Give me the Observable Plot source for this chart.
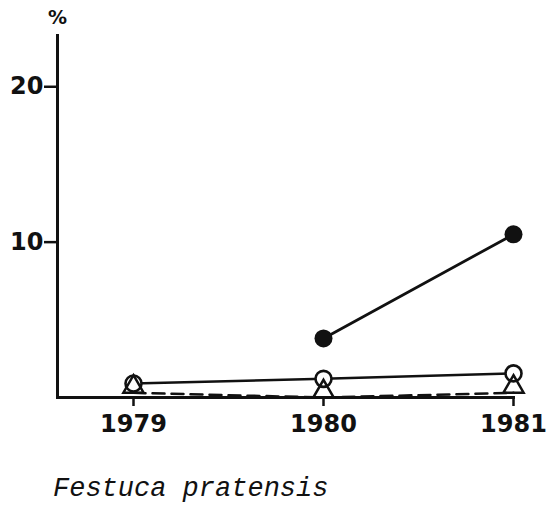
<!DOCTYPE html>
<html>
<head>
<meta charset="utf-8">
<script src="https://cdn.jsdelivr.net/npm/d3@7"></script>
<script src="https://cdn.jsdelivr.net/npm/@observablehq/plot@0.6"></script>
<style>
  html, body { margin: 0; padding: 0; background: #fff; }
  #chart svg { display: block; }
  #caption {
    margin: 26px 0 0 53px;
    font-family: "Liberation Mono", "DejaVu Sans Mono", monospace;
    font-style: italic;
    font-size: 27px;
    line-height: 1;
    color: #111;
  }
</style>
</head>
<body>
<div id="chart"></div>
<div id="caption">Festuca pratensis</div>
<script>
// Data
const years = [1979, 1980, 1981];
const filledYears = [1980, 1981];
const filledValues = [3.8, 10.5];        // filled circles, solid line
const openValues = [0.9, 1.2, 1.55];     // open circles, solid line
const triangleValues = [0.3, 0, 0.3];    // triangles, dashed line
const yTicks = [10, 20];
const yTickLabels = ["10", "20"];
const unitLabel = "%";
const captionText = "Festuca pratensis";

const filled = filledYears.map((x, i) => ({x, y: filledValues[i]}));
const open = years.map((x, i) => ({x, y: openValues[i]}));
const tri = years.map((x, i) => ({x, y: triangleValues[i]}));

const ink = "#111";
const font = "DejaVu Sans";

const chart = Plot.plot({
  width: 547,
  height: 450,
  marginLeft: 57,
  marginRight: 34,
  marginTop: 35,
  marginBottom: 53,
  style: {fontFamily: font, fontWeight: "bold", fontSize: "24px", color: ink, background: "#fff"},
  x: {domain: [1978.6, 1981]},
  y: {domain: [0, 23.3]},
  marks: [
    Plot.frame({anchor: "left", stroke: ink, strokeWidth: 3}),
    Plot.frame({anchor: "bottom", stroke: ink, strokeWidth: 3}),
    Plot.axisY({
      ticks: yTicks,
      tickFormat: (d) => yTickLabels[yTicks.indexOf(d)],
      tickSize: 13, tickPadding: 1, strokeWidth: 2.5, strokeOpacity: 1,
      fontSize: 24, fontWeight: "bold", label: null, stroke: ink, fill: ink
    }),
    Plot.axisX({
      ticks: years,
      tickFormat: (d) => String(d),
      tickSize: 9, tickPadding: 8, strokeWidth: 2.5, strokeOpacity: 1,
      fontSize: 24, fontWeight: "bold", label: null, stroke: ink, fill: ink
    }),
    Plot.text([unitLabel], {frameAnchor: "top-left", textAnchor: "middle", dy: -25, dx: 0, text: (d) => d, fontSize: 19, fontWeight: "bold", fill: ink}),
    Plot.line(tri, {x: "x", y: "y", stroke: ink, strokeWidth: 2.5, strokeDasharray: "12,7"}),
    Plot.line(open, {x: "x", y: "y", stroke: ink, strokeWidth: 2.5}),
    Plot.line(filled, {x: "x", y: "y", stroke: ink, strokeWidth: 2.8}),
    Plot.dot(open, {x: "x", y: "y", r: 8, fill: "#fff", stroke: ink, strokeWidth: 2.6}),
    Plot.dot(tri, {x: "x", y: "y", symbol: "triangle", r: 7.5, dy: -6, fill: "none", stroke: ink, strokeWidth: 2.5}),
    Plot.dot(filled, {x: "x", y: "y", r: 9, fill: ink, stroke: "none"})
  ]
});
document.getElementById("chart").appendChild(chart);
document.getElementById("caption").textContent = captionText;
</script>
</body>
</html>
